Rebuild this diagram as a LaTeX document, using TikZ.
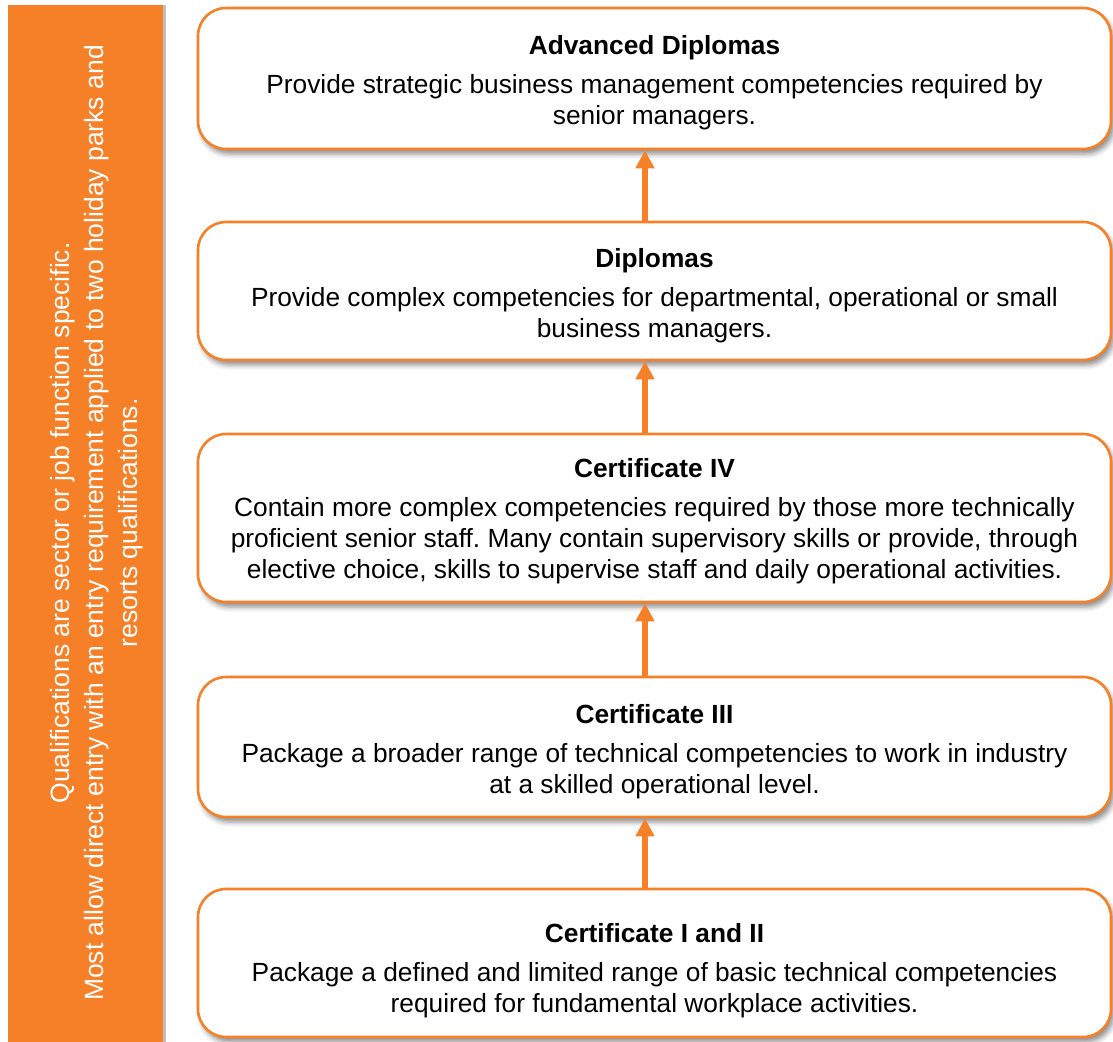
\documentclass[tikz,border=0pt]{standalone}
\usepackage{fontspec}
\setmainfont{Liberation Sans}
\usetikzlibrary{arrows.meta,shadows,shadows.blur}
\definecolor{qorange}{RGB}{245,128,40}
\frenchspacing
\begin{document}
\begin{tikzpicture}[x=1pt,y=1pt,
  level/.style={draw=qorange, line width=2.6pt, fill=white, rounded corners=28pt,
    minimum width=913pt,
    blur shadow={shadow xshift=3pt, shadow yshift=-5pt,
      shadow blur radius=5pt, shadow opacity=45}},
  leveltext/.style={align=center, text=black, inner sep=0pt,
    font=\fontsize{26.3}{31}\selectfont},
  sidebar/.style={fill=qorange, inner sep=0pt, minimum width=155pt,
    minimum height=1040pt,
    drop shadow={shadow xshift=3pt, shadow yshift=0pt, fill=black!25, opacity=1}},
  sidetext/.style={rotate=90, align=center, text=white,
    font=\fontsize{26.5}{34}\selectfont},
  up/.style={draw=qorange, line width=6pt, -{Triangle[length=18pt,width=18pt]}}
]
\useasboundingbox (0,0) rectangle (1113,-1041);

% side bar with its rotated note
\node[sidebar] (bar) at (85.5,-525) {};
\node[sidetext] (note) at (97,-523) {Qualifications are sector or job function specific.\\
  Most allow direct entry with an entry requirement applied to two holiday parks and\\
  resorts qualifications.};

% qualification levels, top to bottom
\node[level, minimum height=141pt] (b1) at (654.5,-78.5) {};
\node[level, minimum height=138pt] (b2) at (654.5,-291) {};
\node[level, minimum height=168pt] (b3) at (654.5,-518) {};
\node[level, minimum height=140pt] (b4) at (654.5,-747) {};
\node[level, minimum height=148pt] (b5) at (654.5,-963) {};

\node[leveltext] (t1) at (654.5,-82.5) {\textbf{Advanced Diplomas}\\[8pt]
  Provide strategic business management competencies required by\\ senior managers.};
\node[leveltext] (t2) at (654.5,-295.5) {\textbf{Diplomas}\\[8pt]
  Provide complex competencies for departmental, operational or small\\ business managers.};
\node[leveltext] (t3) at (654.5,-521.5) {\textbf{Certificate IV}\\[8pt]
  Contain more complex competencies required by those more technically\\
  proficient senior staff. Many contain supervisory skills or provide, through\\
  elective choice, skills to supervise staff and daily operational activities.};
\node[leveltext] (t4) at (654.5,-751.5) {\textbf{Certificate III}\\[8pt]
  Package a broader range of technical competencies to work in industry\\
  at a skilled operational level.};
\node[leveltext] (t5) at (654.5,-971) {\textbf{Certificate I and II}\\[8pt]
  Package a defined and limited range of basic technical competencies\\
  required for fundamental workplace activities.};

% progression arrows
\coordinate (ax) at (645,0);
\draw[up] (b2.north -| ax) -- (b1.south -| ax);
\draw[up] (b3.north -| ax) -- (b2.south -| ax);
\draw[up] (b4.north -| ax) -- (b3.south -| ax);
\draw[up] (b5.north -| ax) -- (b4.south -| ax);
\end{tikzpicture}
\end{document}
